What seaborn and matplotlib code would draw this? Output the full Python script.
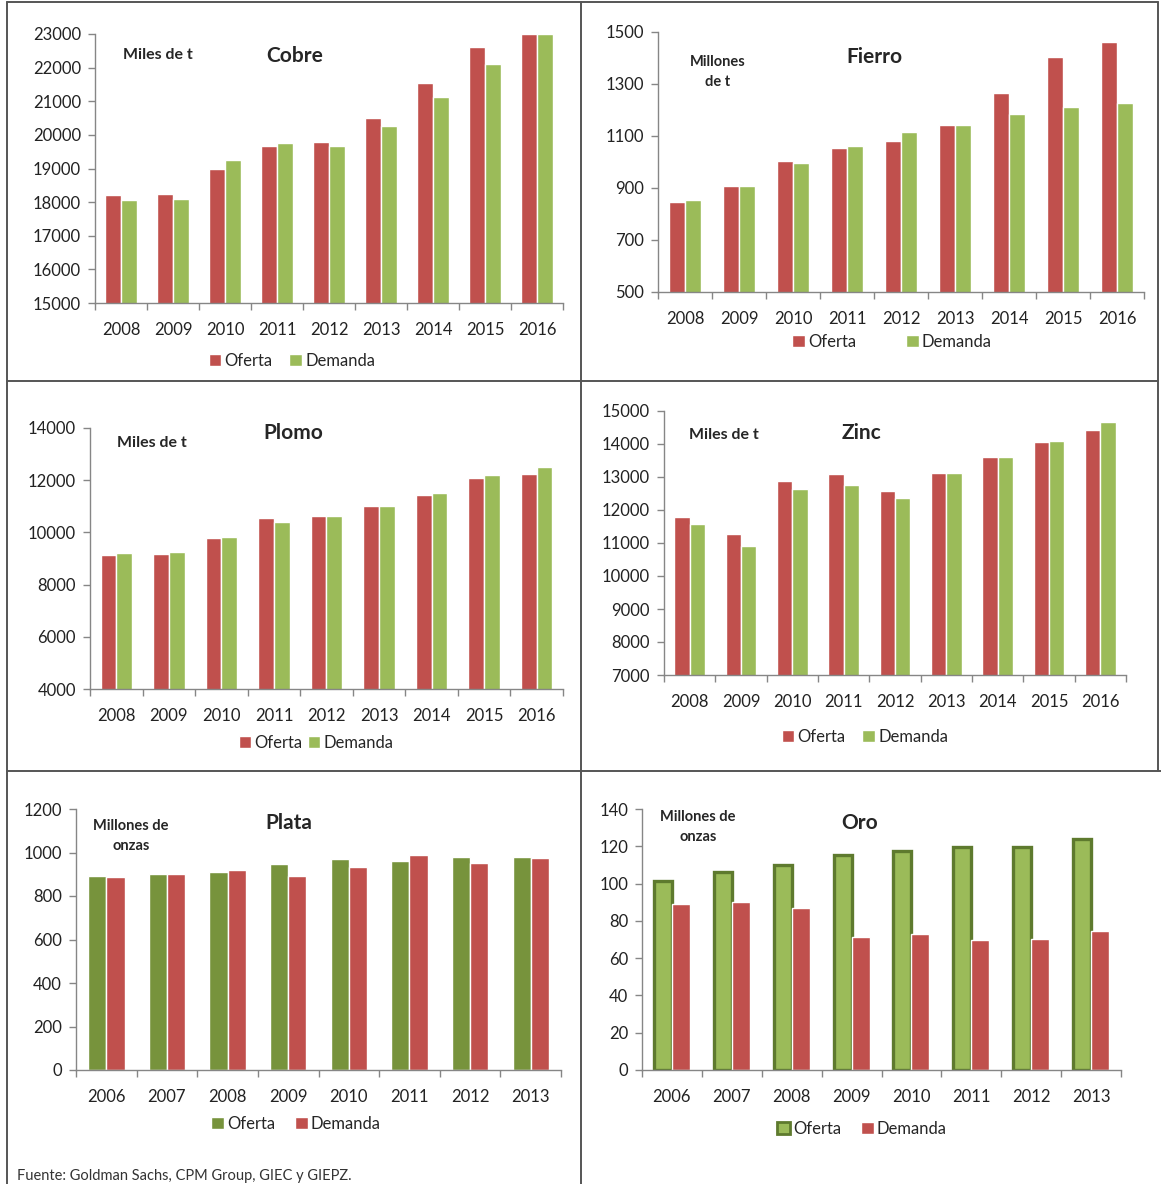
import numpy as np
import pandas as pd
import matplotlib
matplotlib.use("Agg")
import matplotlib.pyplot as plt
from matplotlib.lines import Line2D
from matplotlib.patches import Patch
import seaborn as sns

# values
years_a = ['2008', '2009', '2010', '2011', '2012', '2013', '2014', '2015', '2016']
years_b = ['2006', '2007', '2008', '2009', '2010', '2011', '2012', '2013']

cobre_oferta = [18210, 18230, 18990, 19680, 19790, 20490, 21530, 22600, 23000]
cobre_demanda = [18060, 18080, 19260, 19770, 19680, 20250, 21140, 22110, 23000]

fierro_oferta = [848, 906, 1004, 1055, 1079, 1141, 1266, 1405, 1460]
fierro_demanda = [853, 906, 997, 1063, 1115, 1143, 1186, 1210, 1228]

plomo_oferta = [9150, 9160, 9800, 10550, 10620, 11010, 11450, 12080, 12230]
plomo_demanda = [9200, 9230, 9820, 10400, 10620, 11030, 11510, 12200, 12500]

zinc_oferta = [11780, 11270, 12870, 13100, 12590, 13130, 13600, 14050, 14420]
zinc_demanda = [11590, 10920, 12650, 12760, 12360, 13120, 13600, 14100, 14680]

plata_oferta = [890, 902, 910, 948, 970, 963, 980, 979]
plata_demanda = [887, 902, 918, 890, 933, 988, 951, 976]

oro_oferta = [101.4, 106.0, 110.0, 115.1, 117.6, 119.8, 119.4, 123.9]
oro_demanda = [88.9, 90.3, 87.1, 71.3, 73.0, 69.6, 70.1, 74.7]

RED = '#C0504D'
GREEN = '#9BBB59'
OLIVE = '#77933C'
DARKGREEN = '#5E7A2E'

W, H = 1161, 1184

sns.set_style("white", {'xtick.bottom': True, 'ytick.left': True})
plt.rcParams['font.family'] = ['Lato', 'DejaVu Sans']

fig = plt.figure(figsize=(W / 100, H / 100), dpi=100)


def fx(x):
    return x / W


def fy(y):
    return 1 - y / H


def panel(box, years, oferta, demanda, ylim, step, title, unit, title_xy, unit_xy,
          legend_xy, colors, colspace, oro=False):
    x0, x1, y0, y1 = box
    ax = fig.add_axes([fx(x0), fy(y1), fx(x1 - x0), (y1 - y0) / H])
    df = pd.DataFrame({
        'Año': years * 2,
        'Valor': oferta + demanda,
        'Serie': ['Oferta'] * len(years) + ['Demanda'] * len(years),
    })
    sns.barplot(data=df, x='Año', y='Valor', hue='Serie', hue_order=['Oferta', 'Demanda'],
                palette=colors, width=0.6, saturation=1, ax=ax, legend=False)
    if oro:
        for bar in ax.patches[:len(years)]:
            bar.set_edgecolor(DARKGREEN)
            bar.set_linewidth(2.4)
    ax.set_ylim(*ylim)
    ax.set_xlim(-0.5, len(years) - 0.5)
    ax.set_yticks(np.arange(ylim[0], ylim[1] + 1, step))
    ax.set_xticks(np.arange(-0.5, len(years), 1), minor=True)
    ax.set_xlabel('')
    ax.set_ylabel('')
    for s in ['top', 'right']:
        ax.spines[s].set_visible(False)
    for s in ['left', 'bottom']:
        ax.spines[s].set_color('#868686')
        ax.spines[s].set_linewidth(1)
    ax.tick_params(axis='x', which='major', bottom=False, length=0, pad=14, labelsize=12,
                   colors='#222222')
    ax.tick_params(axis='x', which='minor', bottom=True, length=5, width=1,
                   color='#868686', direction='out')
    ax.tick_params(axis='y', left=True, length=5, width=1, color='#868686', direction='out',
                   labelsize=12, labelcolor='#222222', pad=5)
    fig.text(fx(title_xy[0]), fy(title_xy[1]), title, ha='center', va='center',
             fontsize=15, fontweight='bold')
    fig.text(fx(unit_xy[0]), fy(unit_xy[1]), unit, ha='center', va='center',
             fontsize=10.5 if '\n' in unit else 11.5, fontweight='bold', linespacing=1.5)
    if oro:
        h_of = Patch(facecolor=colors[0], edgecolor=DARKGREEN, linewidth=2)
    else:
        h_of = Patch(facecolor=colors[0])
    h_de = Patch(facecolor=colors[1])
    ax.legend([h_of, h_de], ['Oferta', 'Demanda'], loc='center',
              bbox_to_anchor=(fx(legend_xy[0]), fy(legend_xy[1])),
              bbox_transform=fig.transFigure, ncol=2, frameon=False,
              handlelength=0.75, handleheight=0.75, handletextpad=0.2,
              columnspacing=colspace, fontsize=12)
    return ax


panel((95, 563, 34, 303), years_a, cobre_oferta, cobre_demanda, (15000, 23000), 1000,
      'Cobre', 'Miles de t', (295, 56), (158, 55), (292, 361), [RED, GREEN], 1.0)
panel((658, 1144, 32, 292), years_a, fierro_oferta, fierro_demanda, (500, 1500), 200,
      'Fierro', 'Millones\nde t', (874, 57), (718, 72), (892, 342), [RED, GREEN], 3.0)
panel((90, 563, 428, 689), years_a, plomo_oferta, plomo_demanda, (4000, 14000), 2000,
      'Plomo', 'Miles de t', (293, 433), (152, 443), (316, 743), [RED, GREEN], 0.3)
panel((664, 1126, 411, 675), years_a, zinc_oferta, zinc_demanda, (7000, 15000), 1000,
      'Zinc', 'Miles de t', (861, 433), (724, 435), (865, 737), [RED, GREEN], 1.0)
panel((76, 561, 809, 1070), years_b, plata_oferta, plata_demanda, (0, 1200), 200,
      'Plata', 'Millones de\nonzas', (289, 823), (131, 836), (296, 1124), [OLIVE, RED], 1.2)
panel((642, 1121, 809, 1070), years_b, oro_oferta, oro_demanda, (0, 140), 20,
      'Oro', 'Millones de\nonzas', (860, 823), (698, 827), (862, 1129), [GREEN, RED], 1.2,
      oro=True)

fig.text(fx(17), fy(1176), 'Fuente: Goldman Sachs, CPM Group, GIEC y GIEPZ.',
         ha='left', va='center', fontsize=10.5, color='#333333')

# panel frame lines
frame = [
    ((7, 1158), (2, 2)),
    ((7, 1158), (381, 381)),
    ((7, 1161), (771, 771)),
    ((7, 7), (2, 1184)),
    ((581, 581), (2, 1184)),
    ((1158, 1158), (2, 771)),
]
for xs, ys in frame:
    fig.add_artist(Line2D([fx(xs[0]), fx(xs[1])], [fy(ys[0]), fy(ys[1])],
                          transform=fig.transFigure, color='#555555', linewidth=1.4))

fig.savefig('out.png', dpi=100)
